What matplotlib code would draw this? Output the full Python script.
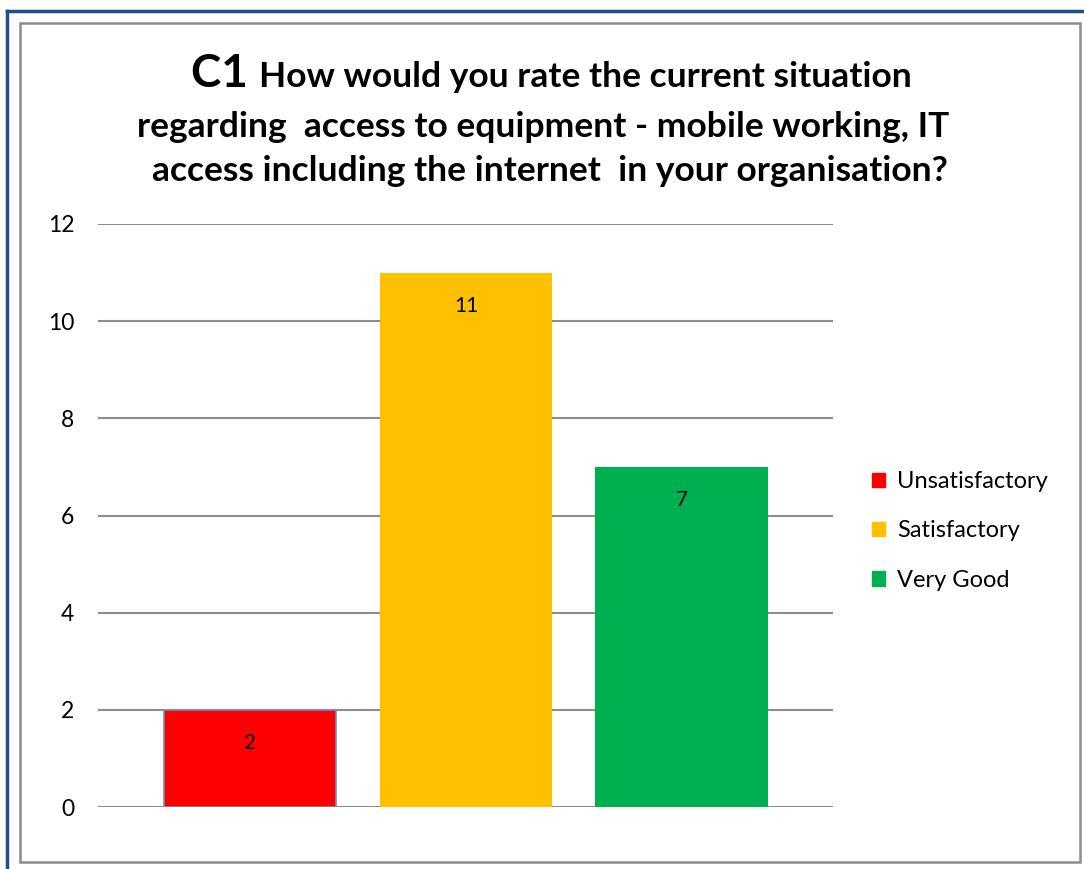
import matplotlib
matplotlib.use("Agg")
import matplotlib.pyplot as plt
from matplotlib.patches import Rectangle
from matplotlib.lines import Line2D

categories = ["Unsatisfactory", "Satisfactory", "Very Good"]
values = [2, 11, 7]
colors = ["#FF0000", "#FFC000", "#00B050"]
yticks = [0, 2, 4, 6, 8, 10, 12]
title_lead = "C1"
title_lines = ["How would you rate the current situation",
               "regarding  access to equipment - mobile working, IT",
               "access including the internet  in your organisation?"]

W, H = 1084, 869
fig = plt.figure(figsize=(W / 100, H / 100), dpi=100)
plt.rcParams['font.family'] = ['Lato', 'DejaVu Sans']

def fx(x):
    return x / W

def fy(y):
    return 1 - y / H

# outer blue border
fig.add_artist(Line2D([fx(7), fx(7)], [fy(11), fy(H + 5)], color="#1F4E8C", lw=2.5, transform=fig.transFigure))
fig.add_artist(Line2D([fx(7), fx(W + 5)], [fy(11), fy(11)], color="#1F4E8C", lw=2.5, transform=fig.transFigure))
# inner gray border
fig.add_artist(Rectangle((fx(20), fy(862)), fx(1080) - fx(20), fy(23) - fy(862), fill=False,
                         edgecolor="#8C8C8C", lw=1.8, transform=fig.transFigure))

ax = fig.add_axes([fx(98), fy(807), fx(833) - fx(98), fy(224) - fy(807)])
x = list(range(len(categories)))
bars = ax.bar(x, values, width=0.80, color=colors, zorder=3)
bars[0].set_edgecolor("#6F8FBF")
bars[0].set_linewidth(1.2)
ax.set_xlim(-0.704, 2.70)
ax.set_ylim(0, 12)
ax.set_yticks(yticks)
ax.set_xticks([])
ax.tick_params(axis='y', length=0, pad=17, labelsize=16.5)
for s in ax.spines.values():
    s.set_visible(False)
ax.grid(axis='y', color="#8C8C8C", lw=1.5, zorder=0)
ax.set_axisbelow(True)

for b, v in zip(bars, values):
    ax.annotate(str(v), (b.get_x() + b.get_width() / 2, v), xytext=(0, -24),
                textcoords='offset points', ha='center', va='center', fontsize=15, zorder=4)

handles = [Rectangle((0, 0), 1, 1, color=c) for c in colors]
fig.legend(handles, categories, loc='center left', bbox_to_anchor=(fx(872), fy(531)),
           frameon=False, fontsize=17, handlelength=0.55, handleheight=0.55,
           handletextpad=0.5, labelspacing=1.2, borderaxespad=0, borderpad=0)

# title
fig.canvas.draw()
r = fig.canvas.get_renderer()
title_size = 25.5
lead = fig.text(0, 0, title_lead + " ", fontsize=33, fontweight='bold')
rest = fig.text(0, 0, title_lines[0], fontsize=title_size, fontweight='bold')
wl = lead.get_window_extent(r).width
wr = rest.get_window_extent(r).width
x0 = 551 - (wl + wr) / 2
lead.set_position((fx(x0), fy(87)))
lead.set_va('baseline')
rest.set_position((fx(x0 + wl), fy(87)))
rest.set_va('baseline')
fig.text(fx(543), fy(137), title_lines[1], fontsize=title_size, fontweight='bold', ha='center', va='baseline')
fig.text(fx(550), fy(181), title_lines[2], fontsize=title_size, fontweight='bold', ha='center', va='baseline')

fig.savefig("out.png", dpi=100)
